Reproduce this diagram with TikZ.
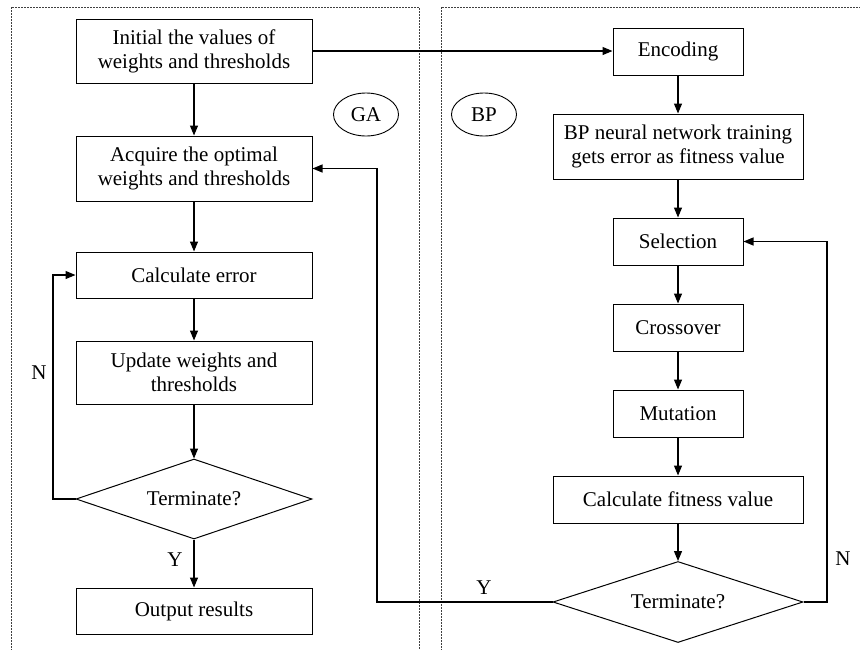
\documentclass[tikz,border=0pt]{standalone}
\usepackage{fontspec}
\setmainfont{Liberation Serif}
\usetikzlibrary{shapes.geometric,arrows.meta}
\begin{document}
\begin{tikzpicture}[x=1pt,y=-1pt,
  every node/.style={font=\fontsize{21}{24}\selectfont},
  procbox/.style={draw,line width=1pt,rectangle,inner sep=0pt,align=center},
  decision/.style={draw,line width=1pt,diamond,aspect=3,inner sep=0pt},
  tag/.style={draw,line width=0.9pt,ellipse,inner sep=0pt,minimum width=65,minimum height=43},
  flow/.style={line width=1.2pt,-{Triangle[length=10pt,width=8pt]}},
  panel/.style={line width=0.7pt,dash pattern=on 2pt off 1pt,draw=black!75}]
\useasboundingbox (0,0) rectangle (860,649);

% dashed panels
\draw[panel] (11,660) -- (11,7) -- (419,7) -- (419,660);
\draw[panel] (441,660) -- (441,7) -- (870,7);

% left column
\node[procbox,minimum width=236,minimum height=64] (init) at (194,51) {Initial the values of\\weights and thresholds};
\node[procbox,minimum width=236,minimum height=65] (acq) at (194,168.5) {Acquire the optimal\\weights and thresholds};
\node[procbox,minimum width=236,minimum height=46] (calc) at (194,275) {Calculate error};
\node[procbox,minimum width=236,minimum height=63] (upd) at (194,372.5) {Update weights and\\thresholds};
\node[decision,minimum width=236,minimum height=80] (term1) at (194,499) {Terminate?};
\node[procbox,minimum width=236,minimum height=46] (out) at (194,611) {Output results};

\node[tag] (ga) at (366,114.5) {GA};
\node[tag] (bp) at (484,114.5) {BP};

% right column
\node[procbox,minimum width=130,minimum height=47] (enc) at (678,51.5) {Encoding};
\node[procbox,minimum width=250,minimum height=65] (train) at (678,146.5) {BP neural network training\\gets error as fitness value};
\node[procbox,minimum width=130,minimum height=47] (sel) at (678,241.5) {Selection};
\node[procbox,minimum width=130,minimum height=47] (cross) at (678,327.5) {Crossover};
\node[procbox,minimum width=130,minimum height=47] (mut) at (678,413.5) {Mutation};
\node[procbox,minimum width=250,minimum height=47] (fit) at (678,499.5) {Calculate fitness value};
\node[decision,minimum width=250,minimum height=81] (term2) at (678,602) {Terminate?};

% loop corners
\coordinate (nl) at (53,499);
\coordinate (nr) at (827,602);
\coordinate (yl) at (377,602);

% left flow
\draw[flow] (init) -- (acq);
\draw[flow] (acq) -- (calc);
\draw[flow] (calc) -- (upd);
\draw[flow] (upd) -- (term1);
\draw[flow] (term1) -- (out);
\draw[flow] (term1.west) -- (nl) |- (calc.west);
\node (ylab1) at (175,560) {Y};
\node (nlab1) at (39,373) {N};

% right flow
\draw[flow] (init.east) -- (enc.west |- init.east);
\draw[flow] (enc) -- (train);
\draw[flow] (train) -- (sel);
\draw[flow] (sel) -- (cross);
\draw[flow] (cross) -- (mut);
\draw[flow] (mut) -- (fit);
\draw[flow] (fit) -- (term2);
\draw[flow] (term2.east) -- (nr) |- (sel.east);
\draw[flow] (term2.west) -- (yl) |- (acq.east);
\node (ylab2) at (484,588) {Y};
\node (nlab2) at (843,559) {N};
\end{tikzpicture}
\end{document}
